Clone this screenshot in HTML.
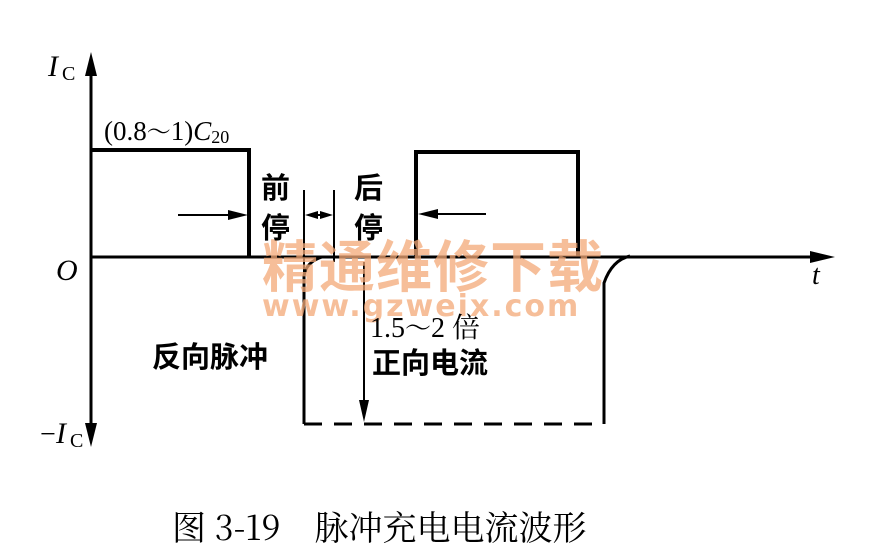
<!DOCTYPE html>
<html><head><meta charset="utf-8"><style>
html,body{margin:0;padding:0;background:#fff;width:870px;height:559px;overflow:hidden}
svg{display:block}
</style></head><body>
<svg width="870" height="559" viewBox="0 0 870 559" xmlns="http://www.w3.org/2000/svg">
<g fill="none" stroke="#000" stroke-width="3">
<line x1="91" y1="70" x2="91" y2="435"/>
<line x1="91" y1="257" x2="820" y2="257"/>
<polyline points="91,150 249,150 249,257" stroke-width="4"/>
<polyline points="416,257 416,152 578,152 578,257" stroke-width="4"/>
<path d="M322,257 Q306,262 304,276 L304,424"/>
<line x1="304" y1="424" x2="604" y2="424" stroke-dasharray="18,12"/>
<path d="M604,424 L604,283 Q612,260 630,256"/>
<line x1="304" y1="190" x2="304" y2="276" stroke-width="2"/>
<line x1="334" y1="190" x2="334" y2="262" stroke-width="2"/>
<line x1="364" y1="262" x2="364" y2="405" stroke-width="2"/>
<line x1="178" y1="215" x2="235" y2="215" stroke-width="2"/>
<line x1="432" y1="214" x2="486" y2="214" stroke-width="2"/>
<line x1="316" y1="215" x2="322" y2="215" stroke-width="2"/>
</g>
<g fill="#000">
<polygon points="91,52 85,76 97,76"/>
<polygon points="91,447 85,423 97,423"/>
<polygon points="835,257 810,251 810,263"/>
<polygon points="248,215 228,210 228,220"/>
<polygon points="418,214 438,209 438,219"/>
<polygon points="305,215 318,211 318,219"/>
<polygon points="333,215 320,211 320,219"/>
<polygon points="364,422 359,400 369,400"/>
</g>
<text x="262" y="287" font-family="'Noto Sans CJK SC',sans-serif" font-size="56" font-weight="bold" fill="#f3a877" fill-opacity="0.75" letter-spacing="1">精通维修下载</text>
<text x="262" y="316" font-family="'DejaVu Sans',sans-serif" font-size="30" font-weight="bold" fill="#f3a877" fill-opacity="0.75" letter-spacing="2">www.gzweix.com</text>
<g font-family="'Liberation Serif','Noto Serif CJK SC',serif" fill="#000">
<text x="48" y="76" font-size="30" font-style="italic">I</text><text x="62" y="80" font-size="20">C</text>
<text x="104" y="140" font-size="27">(0.8<tspan font-size="24">～</tspan>1)<tspan font-style="italic">C</tspan><tspan font-size="18" dy="3">20</tspan></text>
<text x="56" y="280" font-size="30" font-style="italic">O</text>
<text x="812" y="284" font-size="28" font-style="italic">t</text>
<text x="40" y="443" font-size="28">−</text><text x="56" y="443" font-size="30" font-style="italic">I</text><text x="70" y="447" font-size="20">C</text>
<text x="370" y="337" font-size="28">1.5<tspan font-size="26">～</tspan>2 倍</text>
</g>
<g font-family="'Noto Sans CJK SC',sans-serif" fill="#000" font-size="29" font-weight="bold">
<text x="261" y="198">前</text>
<text x="261" y="238">停</text>
<text x="354" y="198">后</text>
<text x="354" y="238">停</text>
<text x="152" y="367">反向脉冲</text>
<text x="372" y="373">正向电流</text>
</g>
<text x="172" y="540" font-family="'Noto Serif CJK SC','Liberation Serif',serif" font-size="34" fill="#000">图 3-19　脉冲充电电流波形</text>
</svg>
</body></html>
